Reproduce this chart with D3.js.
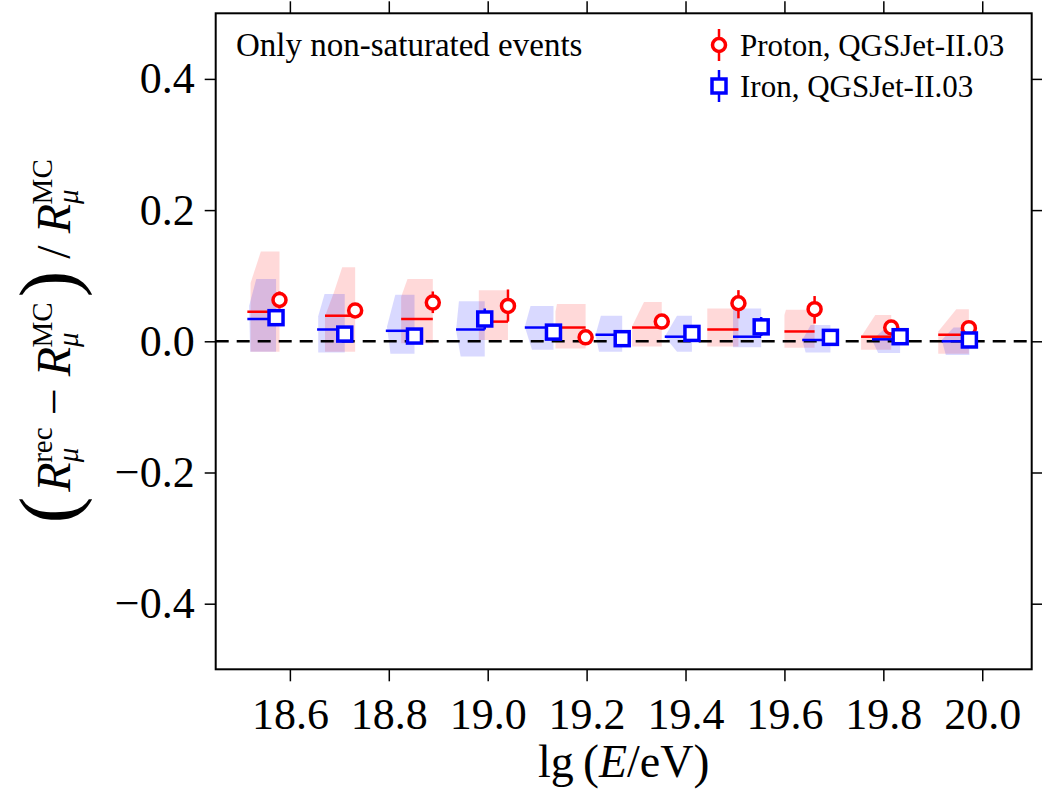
<!DOCTYPE html>
<html><head><meta charset="utf-8">
<script src="https://cdn.jsdelivr.net/npm/d3@7"></script>
<style>
body{margin:0;background:#fff}
text{font-family:"Liberation Serif","Times New Roman",serif;fill:#000}
</style>
</head><body>
<svg id="chart" width="1042" height="791"></svg>
<script>
// ---------------- data ----------------
const xTicks = [18.6, 18.8, 19.0, 19.2, 19.4, 19.6, 19.8, 20.0];
const yTicks = [-0.4, -0.2, 0.0, 0.2, 0.4];
const seriesNames = ["Proton, QGSJet-II.03", "Iron, QGSJet-II.03"];
const noteText = "Only non-saturated events";

// Proton (red circles)
const protonBinStart = [18.514, 18.671, 18.825, 18.982, 19.137, 19.292, 19.444, 19.600, 19.755, 19.911];
const protonMeanLgE  = [18.579, 18.732, 18.889, 19.041, 19.198, 19.352, 19.507, 19.661, 19.816, 19.973];
const protonMedian   = [0.045, 0.039, 0.034, 0.030, 0.021, 0.021, 0.018, 0.015, 0.007, 0.010];
const protonMean     = [0.063, 0.047, 0.059, 0.054, 0.006, 0.030, 0.058, 0.049, 0.021, 0.020];
const protonErrLow   = [0.050, 0.040, 0.043, 0.030, 0.000, 0.023, 0.035, 0.027, 0.014, 0.013];
const protonErrHigh  = [0.076, 0.054, 0.076, 0.079, 0.012, 0.037, 0.078, 0.069, 0.028, 0.027];
// half-violin outlines: [value, relative width] from top to bottom
const protonViolin = [
  [[0.137,0.58],[0.089,0.90],[-0.016,0.90]],
  [[0.113,0.43],[0.075,0.70],[0.038,1.00],[-0.016,1.00]],
  [[0.095,0.80],[0.068,1.00],[-0.003,1.00]],
  [[0.078,1.00],[0.002,1.00]],
  [[0.057,0.95],[0.045,1.00],[-0.011,1.00]],
  [[0.060,0.60],[0.023,1.00],[-0.008,1.00]],
  [[0.050,1.00],[-0.008,1.00]],
  [[0.048,0.95],[0.040,1.00],[-0.010,1.00]],
  [[0.040,0.53],[0.007,1.00],[-0.013,1.00]],
  [[0.049,0.41],[0.015,1.00],[-0.019,1.00]]
];

// Iron (blue squares)
const ironBinStart = [18.514, 18.655, 18.794, 18.936, 19.075, 19.218, 19.358, 19.496, 19.636, 19.777, 19.918];
const ironMeanLgE  = [18.572, 18.711, 18.852, 18.994, 19.133, 19.272, 19.413, 19.553, 19.693, 19.834, 19.974];
const ironMedian   = [0.034, 0.018, 0.016, 0.018, 0.021, 0.010, 0.007, 0.007, 0.002, 0.003, 0.000];
const ironMean     = [0.036, 0.011, 0.008, 0.034, 0.014, 0.004, 0.012, 0.022, 0.006, 0.007, 0.002];
const ironErrLow   = [0.030, 0.000, 0.002, 0.018, 0.008, -0.002, 0.006, 0.008, 0.000, 0.001, -0.004];
const ironErrHigh  = [0.042, 0.023, 0.014, 0.050, 0.020, 0.010, 0.018, 0.037, 0.012, 0.013, 0.008];
const ironViolin = [
  [[0.095,0.69],[0.054,0.94],[-0.016,0.90]],
  [[0.072,0.73],[0.038,0.96],[-0.017,0.96]],
  [[0.071,0.67],[0.022,0.96],[-0.019,0.84]],
  [[0.061,0.90],[0.017,1.00],[-0.023,0.84]],
  [[0.054,0.80],[0.022,1.00],[-0.013,0.75]],
  [[0.039,0.80],[0.010,1.00],[-0.016,0.87]],
  [[0.039,0.55],[0.007,1.00],[-0.016,0.55]],
  [[0.050,1.00],[-0.009,1.00]],
  [[0.025,0.70],[0.002,1.00],[-0.017,0.88]],
  [[0.020,0.53],[0.002,1.00],[-0.018,0.78]],
  [[0.021,0.57],[0.002,1.00],[-0.021,0.85]]
];

// ---------------- layout ----------------
const plot = {left: 215.7, right: 1031.7, top: 13.3, bottom: 669.3};
const svg = d3.select("#chart");
const x = d3.scaleLinear().domain([18.45, 20.1]).range([plot.left, plot.right]);
const y = d3.scaleLinear().domain([-0.5, 0.5]).range([plot.bottom, plot.top]);

const RED = "#ff0000", BLUE = "#0000ff";
const LW = 2.5, MW = 3.5, CR = 6.5, SQ = 14;

function buildSeries(start, meanX, median, mean, lo, hi, violin){
  return start.map((s,i)=>({x0:s, x1:meanX[i], med:median[i], mean:mean[i], lo:lo[i], hi:hi[i], violin:violin[i]}));
}
const proton = buildSeries(protonBinStart, protonMeanLgE, protonMedian, protonMean, protonErrLow, protonErrHigh, protonViolin);
const iron = buildSeries(ironBinStart, ironMeanLgE, ironMedian, ironMean, ironErrLow, ironErrHigh, ironViolin);

svg.append("defs").append("clipPath").attr("id","pc")
  .append("rect").attr("x",plot.left).attr("y",plot.top)
  .attr("width",plot.right-plot.left).attr("height",plot.bottom-plot.top);
const g = svg.append("g").attr("clip-path","url(#pc)");

function violinPath(d){
  const pts = [];
  const top = d.violin[0][0], bot = d.violin[d.violin.length-1][0];
  pts.push([x(d.x1), y(top)]);
  d.violin.forEach(([v,f])=>{
    const lx = d.x1 - f*(d.x1 - d.x0);
    pts.push([x(lx), y(v)]);
  });
  pts.push([x(d.x1), y(bot)]);
  return d3.line()(pts) + "Z";
}

// shaded half-violins
g.selectAll("path.vp").data(proton).join("path").attr("class","vp")
  .attr("d", violinPath).attr("fill", RED).attr("fill-opacity", 0.15).attr("stroke","none");
g.selectAll("path.vi").data(iron).join("path").attr("class","vi")
  .attr("d", violinPath).attr("fill", BLUE).attr("fill-opacity", 0.15).attr("stroke","none");

// zero line
g.append("line").attr("x1", plot.left).attr("x2", plot.right)
  .attr("y1", y(0)).attr("y2", y(0))
  .attr("stroke","#000").attr("stroke-width",2.5).attr("stroke-dasharray","13,8");

// median lines
function medianLines(data, cls, color){
  g.selectAll("line."+cls).data(data).join("line").attr("class",cls)
    .attr("x1", d=>x(d.x0)).attr("x2", d=>x(d.x1))
    .attr("y1", d=>y(d.med)).attr("y2", d=>y(d.med))
    .attr("stroke", color).attr("stroke-width", LW);
}
medianLines(proton, "mp", RED);
medianLines(iron, "mi", BLUE);

// error bars + markers
function errBars(data, cls, color){
  g.selectAll("line."+cls).data(data).join("line").attr("class",cls)
    .attr("x1", d=>x(d.x1)).attr("x2", d=>x(d.x1))
    .attr("y1", d=>y(d.lo)).attr("y2", d=>y(d.hi))
    .attr("stroke", color).attr("stroke-width", LW);
}
errBars(proton, "ep", RED);
g.selectAll("circle.cp").data(proton).join("circle").attr("class","cp")
  .attr("cx", d=>x(d.x1)).attr("cy", d=>y(d.mean)).attr("r", CR)
  .attr("fill","#fff").attr("stroke",RED).attr("stroke-width",MW);
errBars(iron, "ei", BLUE);
g.selectAll("rect.si").data(iron).join("rect").attr("class","si")
  .attr("x", d=>x(d.x1)-SQ/2).attr("y", d=>y(d.mean)-SQ/2)
  .attr("width",SQ).attr("height",SQ)
  .attr("fill","#fff").attr("stroke",BLUE).attr("stroke-width",MW);

// ---------------- axes ----------------
const fmt = d3.format(".1f");
function styleAxis(sel, fontSize){
  sel.select(".domain").remove();
  sel.selectAll(".tick line").attr("stroke","#000").attr("stroke-width",1.5);
  sel.selectAll(".tick text").style("font-size", fontSize).attr("fill","#000");
}
const axB = svg.append("g").attr("transform",`translate(0,${plot.bottom})`)
  .call(d3.axisBottom(x).tickValues(xTicks).tickFormat(fmt).tickSize(12).tickPadding(16));
styleAxis(axB, "44px");
const axT = svg.append("g").attr("transform",`translate(0,${plot.top})`)
  .call(d3.axisTop(x).tickValues(xTicks).tickFormat("").tickSize(12));
styleAxis(axT, "44px");
const axL = svg.append("g").attr("transform",`translate(${plot.left},0)`)
  .call(d3.axisLeft(y).tickValues(yTicks).tickFormat(fmt).tickSize(11).tickPadding(10));
styleAxis(axL, "44px");
const axR = svg.append("g").attr("transform",`translate(${plot.right},0)`)
  .call(d3.axisRight(y).tickValues(yTicks).tickFormat("").tickSize(11));
styleAxis(axR, "44px");

// frame
svg.append("rect").attr("x",plot.left).attr("y",plot.top)
  .attr("width",plot.right-plot.left).attr("height",plot.bottom-plot.top)
  .attr("fill","none").attr("stroke","#000").attr("stroke-width",2);

// ---------------- labels ----------------
function richText(parent, segs){
  let prev = 0;
  segs.forEach(s=>{
    const sh = s.shift || 0;
    const t = parent.append("tspan").text(s.t)
      .attr("dy", sh - prev).style("font-size", s.size+"px");
    if (s.dx) t.attr("dx", s.dx);
    if (s.it) t.style("font-style","italic");
    prev = sh;
  });
}
const xl = svg.append("text").attr("x", (plot.left+plot.right)/2).attr("y", 777)
  .attr("text-anchor","middle");
richText(xl, [
  {t:"lg\u2009", size:46},
  {t:"(", size:48, shift:1},
  {t:"E", size:46, it:true, shift:0},
  {t:"/eV", size:46},
  {t:")", size:48, shift:1}
]);

const ylab = svg.append("text")
  .attr("transform", `translate(70,${(plot.top+plot.bottom)/2}) rotate(-90)`)
  .attr("text-anchor","middle");
richText(ylab, [
  {t:"(", size:80, shift:5},
  {t:"R", size:48, it:true, shift:0, dx:5},
  {t:"\u03bc", size:29, it:true, shift:8},
  {t:"rec", size:29, shift:-18, dx:-15},
  {t:" \u2212 ", size:48, shift:0},
  {t:"R", size:48, it:true, shift:0},
  {t:"\u03bc", size:29, it:true, shift:8},
  {t:"MC", size:29, shift:-18, dx:-15},
  {t:")", size:80, shift:5, dx:5},
  {t:" / ", size:48, shift:0},
  {t:"R", size:48, it:true, shift:0},
  {t:"\u03bc", size:29, it:true, shift:8},
  {t:"MC", size:29, shift:-18, dx:-15}
]);

// note
svg.append("text").attr("x",236).attr("y",56).style("font-size","33px").text(noteText);

// legend
const leg = svg.append("g");
const legY = [45, 86];
const legX = 719;
leg.append("line").attr("x1",legX).attr("x2",legX).attr("y1",legY[0]-16).attr("y2",legY[0]+16)
  .attr("stroke",RED).attr("stroke-width",LW);
leg.append("circle").attr("cx",legX).attr("cy",legY[0]).attr("r",CR)
  .attr("fill","#fff").attr("stroke",RED).attr("stroke-width",MW);
leg.append("line").attr("x1",legX).attr("x2",legX).attr("y1",legY[1]-16).attr("y2",legY[1]+16)
  .attr("stroke",BLUE).attr("stroke-width",LW);
leg.append("rect").attr("x",legX-SQ/2).attr("y",legY[1]-SQ/2).attr("width",SQ).attr("height",SQ)
  .attr("fill","#fff").attr("stroke",BLUE).attr("stroke-width",MW);
leg.selectAll("text").data(seriesNames).join("text")
  .attr("x",740).attr("y",(d,i)=>legY[i]+11).style("font-size","31px").text(d=>d);
</script>
</body></html>
